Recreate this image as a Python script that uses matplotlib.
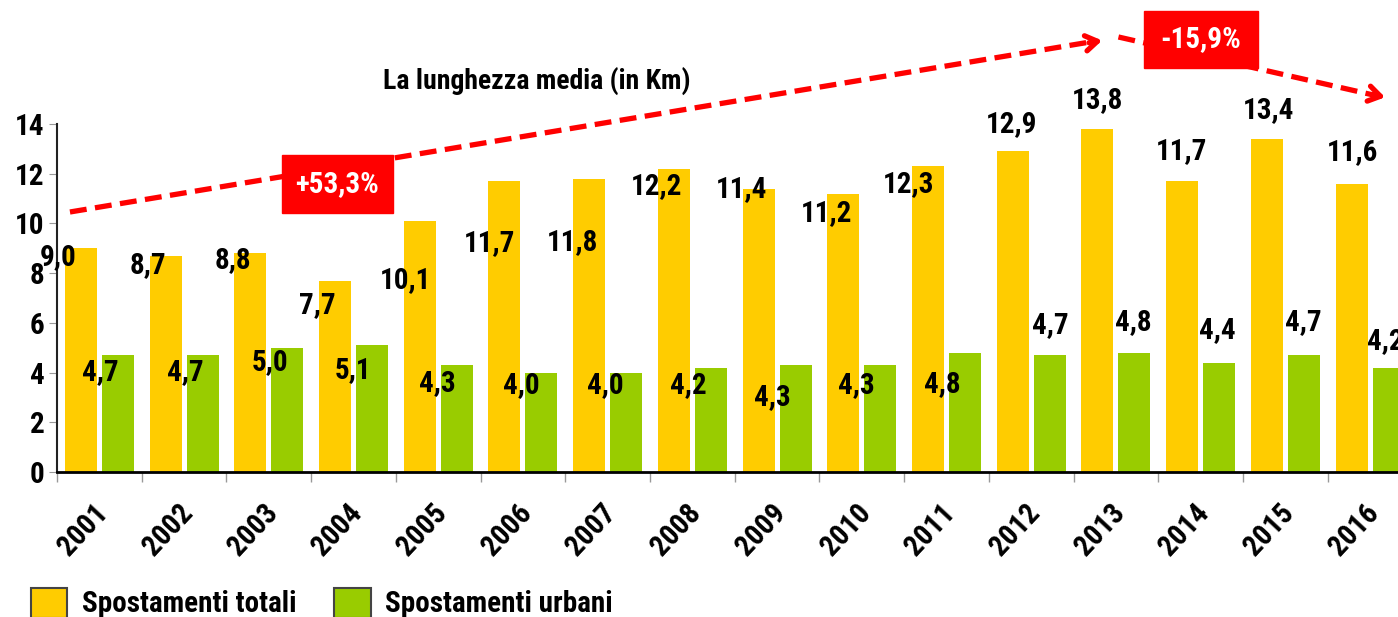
import matplotlib.pyplot as plt
import matplotlib.transforms as mtransforms
from matplotlib.patches import Patch, Rectangle

plt.rcParams['font.family'] = ['Roboto Condensed', 'DejaVu Sans']
plt.rcParams['font.weight'] = 'bold'

years = ['2001', '2002', '2003', '2004', '2005', '2006', '2007', '2008',
         '2009', '2010', '2011', '2012', '2013', '2014', '2015', '2016']
totali = [9.0, 8.7, 8.8, 7.7, 10.1, 11.7, 11.8, 12.2, 11.4, 11.2, 12.3, 12.9, 13.8, 11.7, 13.4, 11.6]
urbani = [4.7, 4.7, 5.0, 5.1, 4.3, 4.0, 4.0, 4.2, 4.3, 4.3, 4.8, 4.7, 4.8, 4.4, 4.7, 4.2]

# where the value labels sit (offset from group centre, height in km)
tot_lab_dx = [-0.49, -0.43, -0.42, -0.43, -0.39, -0.39, -0.41, -0.42,
              -0.42, -0.42, -0.45, -0.23, -0.22, -0.22, -0.20, -0.21]
tot_lab_y = [8.65, 8.33, 8.53, 6.72, 7.72, 9.21, 9.25, 11.5,
             11.38, 10.42, 11.58, 14.0, 14.96, 12.91, 14.56, 12.87]
urb_lab_dx = [0.01, 0.01, 0.01, -0.01, -0.01, -0.02, -0.03, -0.05,
              -0.06, -0.06, -0.05, 0.22, 0.20, 0.20, 0.21, 0.18]
urb_lab_y = [4.02, 4.02, 4.42, 4.1, 3.58, 3.5, 3.5, 3.5,
             3.02, 3.5, 3.54, 5.91, 6.03, 5.71, 6.03, 5.27]

YELLOW = '#FFCC00'
GREEN = '#99CC00'
RED = '#FF0000'

fig = plt.figure(figsize=(13.98, 6.17), dpi=100)
ax = fig.add_axes([57/1398, 1-472/617, 1-57/1398, (472-124)/617])

x = list(range(len(years)))
w = 0.378
ax.bar([i - 0.218 for i in x], totali, width=w, color=YELLOW, zorder=2)
ax.bar([i + 0.218 for i in x], urbani, width=w, color=GREEN, zorder=2)

for i in x:
    ax.text(i + tot_lab_dx[i], tot_lab_y[i], f'{totali[i]:.1f}'.replace('.', ','),
            ha='center', va='center', fontsize=21, zorder=5, clip_on=False)
    ax.text(i + urb_lab_dx[i], urb_lab_y[i], f'{urbani[i]:.1f}'.replace('.', ','),
            ha='center', va='center', fontsize=21, zorder=5, clip_on=False)

ax.set_xlim(-0.5, 15.33)
ax.set_ylim(0, 14)
ax.set_yticks(range(0, 15, 2))
ax.set_xticks(x)
ax.set_xticklabels(years, rotation=47, ha='right', va='top', rotation_mode='anchor')
ax.set_xticks([i - 0.5 for i in x], minor=True)
ax.tick_params(axis='x', which='major', length=0, pad=19, labelsize=21)
ax.tick_params(axis='x', which='minor', length=7, color='#999999', width=1)
ax.tick_params(axis='y', length=6, color='#999999', pad=3, labelsize=21)
shift = mtransforms.ScaledTranslation(-6/100, 0, fig.dpi_scale_trans)
for lab in ax.get_xticklabels():
    lab.set_transform(lab.get_transform() + shift)
for s in ['top', 'right']:
    ax.spines[s].set_visible(False)
ax.spines['bottom'].set_linewidth(2)
ax.spines['left'].set_linewidth(1.5)
ax.spines['left'].set_color('#222222')

# trend arrows
dash = (0, (3.2, 1.6))
ax.plot([-0.347, 11.75], [10.46, 17.33], color=RED, lw=3.8, ls=dash, clip_on=False, zorder=3)
ax.annotate('', xy=(11.87, 17.38), xytext=(11.65, 17.25), annotation_clip=False,
            arrowprops=dict(arrowstyle='->,head_length=0.85,head_width=0.55', color=RED, lw=3.8))
ax.plot([12.03, 15.1], [17.5, 15.12], color=RED, lw=3.8, ls=dash, clip_on=False, zorder=3)
ax.annotate('', xy=(15.21, 15.05), xytext=(15.0, 15.21), annotation_clip=False,
            arrowprops=dict(arrowstyle='->,head_length=0.85,head_width=0.55', color=RED, lw=3.8))

ax.add_patch(Rectangle((2.157, 10.42), 1.31, 2.33, color=RED, clip_on=False, zorder=4))
ax.text(2.81, 11.58, '+53,3%', color='white', fontsize=21, ha='center', va='center', zorder=5)
ax.add_patch(Rectangle((12.33, 16.25), 1.35, 2.3, color=RED, clip_on=False, zorder=4))
ax.text(13.0, 17.4, '-15,9%', color='white', fontsize=21, ha='center', va='center', zorder=5)

fig.text(383/1398, 1-81/617, 'La lunghezza media (in Km)', fontsize=20, ha='left', va='center')

handles = [Patch(facecolor=YELLOW, edgecolor='#444444', lw=1.5, label='Spostamenti totali'),
           Patch(facecolor=GREEN, edgecolor='#444444', lw=1.5, label='Spostamenti urbani')]
fig.legend(handles=handles, loc='center left', bbox_to_anchor=(0.022, 1-603/617), ncol=2,
           frameon=False, fontsize=21, handlelength=1.25, handleheight=1.2,
           handletextpad=0.5, columnspacing=1.3, borderpad=0, borderaxespad=0)

fig.savefig('out.png', dpi=100)
